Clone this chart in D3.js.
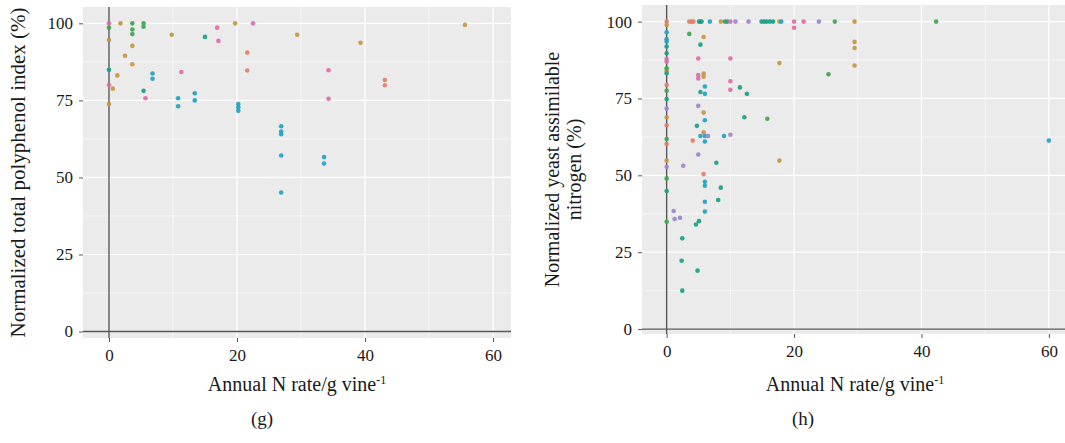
<!DOCTYPE html>
<html>
<head>
<meta charset="utf-8">
<script src="https://cdn.jsdelivr.net/npm/d3@7"></script>
<style>
  body { margin: 0; background: #fff; }
</style>
</head>
<body>
<svg id="chart" width="1065" height="443"></svg>
<script>
// (g) normalized total polyphenol index vs annual N rate, one array per study colour
const tpiSalmon = [[21.6, 90.5], [21.6, 84.7], [43.1, 81.6], [43.1, 79.9]];
const tpiOrange = [[0, 94.6], [0, 73.8], [0.6, 78.8], [1.3, 83.1], [1.8, 100], [2.5, 89.5], [3.65, 92.7],
  [3.65, 86.7], [9.8, 96.3], [19.7, 100], [29.4, 96.3], [39.3, 93.7], [55.6, 99.5]];
const tpiGreen = [[0, 98.6], [3.65, 100], [3.65, 98], [3.65, 96.5], [5.4, 100], [5.4, 98.9]];
const tpiTeal = [[0, 84.9], [5.4, 78.1], [15, 95.6]];
const tpiCyan = [[6.8, 83.7], [6.8, 82], [10.8, 75.7], [10.8, 73.1], [13.4, 77.3], [13.4, 75], [20.2, 73.8],
  [20.2, 72.8], [20.2, 71.6], [26.9, 66.6], [26.9, 64.9], [26.9, 64], [26.9, 57.1], [26.9, 45.1],
  [33.6, 56.6], [33.6, 54.5]];
const tpiPink = [[0, 100], [0, 80], [5.7, 75.7], [11.3, 84.2], [16.9, 98.6], [17.1, 94.3], [22.5, 100],
  [34.3, 84.8], [34.3, 75.5]];

// (h) normalized yeast assimilable nitrogen vs annual N rate
const yanSalmon = [[0, 100], [0, 79.4], [0, 66.3], [0, 60.2], [3.55, 100], [3.9, 100], [4.2, 100],
  [4.1, 61.3], [5.8, 50.4]];
const yanOrange = [[0, 98.9], [0, 84], [0, 68.9], [0, 54.8], [5.8, 95], [5.8, 83.1], [5.8, 82.1], [5.8, 70.4],
  [5.8, 64], [8.5, 100], [17.7, 100], [17.7, 86.5], [17.7, 54.8], [29.5, 100], [29.5, 93.4], [29.5, 91.4],
  [29.5, 85.7]];
const yanGreen = [[0, 84.8], [0, 77.5], [0, 61.8], [0, 49], [0, 34.9], [3.55, 96], [9.14, 100], [15.8, 68.4],
  [25.4, 82.9], [26.4, 100], [42.3, 100]];
const yanTeal = [[0, 91.9], [0, 89.7], [0, 83.2], [0, 74.8], [0, 44.9], [5.07, 100], [5.28, 100], [5.48, 100],
  [9.5, 100], [14.9, 100], [15.3, 100], [15.7, 100], [16.2, 100], [16.7, 100], [5.3, 92.5], [5.3, 77.1],
  [11.5, 78.6], [12.6, 76.5], [12.2, 68.9], [4.75, 66.1], [7.8, 54.1], [8.5, 46], [8.1, 42], [5.07, 35.1],
  [4.6, 34], [2.45, 29.5], [2.35, 22.2], [4.85, 19], [2.45, 12.5]];
const yanCyan = [[0, 96.5], [0, 94.3], [0, 93.5], [6.79, 100], [18, 100], [6, 78.9], [6, 76.5], [6, 67.9],
  [5.3, 62.8], [6, 62.8], [6, 61], [9, 62.8], [6, 47.9], [6, 46.6], [6, 41.4], [6, 38.2], [60, 61.3]];
const yanPurple = [[0, 71.7], [0, 52.8], [10.8, 100], [12.85, 100], [23.9, 100], [6.5, 62.8], [10, 63.2],
  [4.96, 72.6], [4.96, 56.8], [2.6, 53.1], [1.1, 38.4], [1.25, 35.8], [2.1, 36.2]];
const yanPink = [[0, 87.8], [0, 87], [10, 100], [20, 100], [21.5, 100], [20, 98], [4.96, 88], [10, 88],
  [4.96, 82.6], [4.96, 81.5], [10, 80.6], [10, 77.8]];

const xTicks = [0, 20, 40, 60];
const xMinor = [10, 30, 50];
const yTicks = [0, 25, 50, 75, 100];
const yMinor = [12.5, 37.5, 62.5, 87.5];

const colors = {
  salmon: '#dd8069', orange: '#c69543', green: '#3fa64e', teal: '#1aa086',
  cyan: '#22a2c2', purple: '#a083d4', pink: '#dc6ca8'
};

const FONT = '"Liberation Serif", "Times New Roman", serif';

const svg = d3.select('#chart');

function drawPanel(cfg) {
  const x = d3.scaleLinear().domain(cfg.xDomain).range([cfg.left, cfg.right]);
  const y = d3.scaleLinear().domain(cfg.yDomain).range([cfg.bottom, cfg.top]);
  const g = svg.append('g');

  g.append('rect')
    .attr('x', cfg.left).attr('y', cfg.top)
    .attr('width', cfg.right - cfg.left).attr('height', cfg.bottom - cfg.top)
    .attr('fill', '#ebebeb');

  // grid, minor first then major
  g.selectAll('.vminor').data(xMinor).join('line')
    .attr('x1', d => x(d)).attr('x2', d => x(d)).attr('y1', cfg.top).attr('y2', cfg.bottom)
    .attr('stroke', '#fff').attr('stroke-width', 0.6);
  g.selectAll('.hminor').data(yMinor).join('line')
    .attr('y1', d => y(d)).attr('y2', d => y(d)).attr('x1', cfg.left).attr('x2', cfg.right)
    .attr('stroke', '#fff').attr('stroke-width', 0.6);
  g.selectAll('.vmajor').data(xTicks).join('line')
    .attr('x1', d => x(d)).attr('x2', d => x(d)).attr('y1', cfg.top).attr('y2', cfg.bottom)
    .attr('stroke', '#fff').attr('stroke-width', 1.2);
  g.selectAll('.hmajor').data(yTicks).join('line')
    .attr('y1', d => y(d)).attr('y2', d => y(d)).attr('x1', cfg.left).attr('x2', cfg.right)
    .attr('stroke', '#fff').attr('stroke-width', 1.2);

  // reference lines at zero
  g.append('line')
    .attr('x1', x(0)).attr('x2', x(0)).attr('y1', cfg.top).attr('y2', cfg.bottom)
    .attr('stroke', '#555').attr('stroke-width', 1.4);
  g.append('line')
    .attr('x1', cfg.left).attr('x2', cfg.right).attr('y1', y(0)).attr('y2', y(0))
    .attr('stroke', '#555').attr('stroke-width', 1.4);

  cfg.series.forEach(s => {
    g.append('g').selectAll('circle').data(s.values).join('circle')
      .attr('cx', d => x(d[0])).attr('cy', d => y(d[1]))
      .attr('r', 2.3)
      .attr('fill', colors[s.color])
      .attr('fill-opacity', 0.92);
  });

  const xAxis = g.append('g')
    .attr('transform', `translate(0,${cfg.bottom})`)
    .call(d3.axisBottom(x).tickValues(xTicks).tickSize(4).tickSizeOuter(0).tickPadding(7));
  const yAxis = g.append('g')
    .attr('transform', `translate(${cfg.left},0)`)
    .call(d3.axisLeft(y).tickValues(yTicks).tickSize(4).tickSizeOuter(0).tickPadding(6));
  [xAxis, yAxis].forEach(a => {
    a.select('.domain').remove();
    a.selectAll('.tick line').attr('stroke', '#555');
    a.selectAll('.tick text')
      .style('font-family', FONT).style('font-size', '17px').attr('fill', '#1a1a1a');
  });

  // x title with superscript
  const xt = g.append('text')
    .attr('x', (cfg.left + cfg.right) / 2).attr('y', cfg.xTitleY)
    .attr('text-anchor', 'middle')
    .style('font-family', FONT).style('font-size', '20px').attr('fill', '#1a1a1a');
  xt.append('tspan').text('Annual N rate/g vine');
  xt.append('tspan').attr('dy', -7).style('font-size', '12px').text('-1');

  const yt = g.append('text')
    .attr('transform', `translate(${cfg.yTitleX},${(cfg.top + cfg.bottom) / 2}) rotate(-90)`)
    .attr('text-anchor', 'middle')
    .style('font-family', FONT).style('font-size', cfg.yTitleSize).attr('fill', '#1a1a1a');
  cfg.yTitle.forEach((line, i) => {
    yt.append('tspan').attr('x', 0).attr('dy', i === 0 ? 0 : 22).text(line);
  });

  g.append('text')
    .attr('x', cfg.captionX).attr('y', 425)
    .attr('text-anchor', 'middle')
    .style('font-family', FONT).style('font-size', '19px').attr('fill', '#1a1a1a')
    .text(cfg.caption);
}

drawPanel({
  left: 83, right: 511, top: 7, bottom: 338,
  xDomain: [-4.06, 62.8], yDomain: [-2.1, 105.3],
  xTitleY: 391, yTitleX: 25, captionX: 262, yTitleSize: '21px',
  yTitle: ['Normalized total polyphenol index (%)'],
  caption: '(g)',
  series: [
    { color: 'salmon', values: tpiSalmon }, { color: 'orange', values: tpiOrange },
    { color: 'green', values: tpiGreen }, { color: 'teal', values: tpiTeal },
    { color: 'cyan', values: tpiCyan }, { color: 'pink', values: tpiPink }
  ]
});

drawPanel({
  left: 642, right: 1068, top: 5, bottom: 334,
  xDomain: [-3.87, 63], yDomain: [-1.6, 105.4],
  xTitleY: 391, yTitleX: 559, captionX: 803, yTitleSize: '20px',
  yTitle: ['Normalized yeast assimilable', 'nitrogen (%)'],
  caption: '(h)',
  series: [
    { color: 'salmon', values: yanSalmon }, { color: 'orange', values: yanOrange },
    { color: 'green', values: yanGreen }, { color: 'teal', values: yanTeal },
    { color: 'cyan', values: yanCyan }, { color: 'purple', values: yanPurple },
    { color: 'pink', values: yanPink }
  ]
});
</script>
</body>
</html>
